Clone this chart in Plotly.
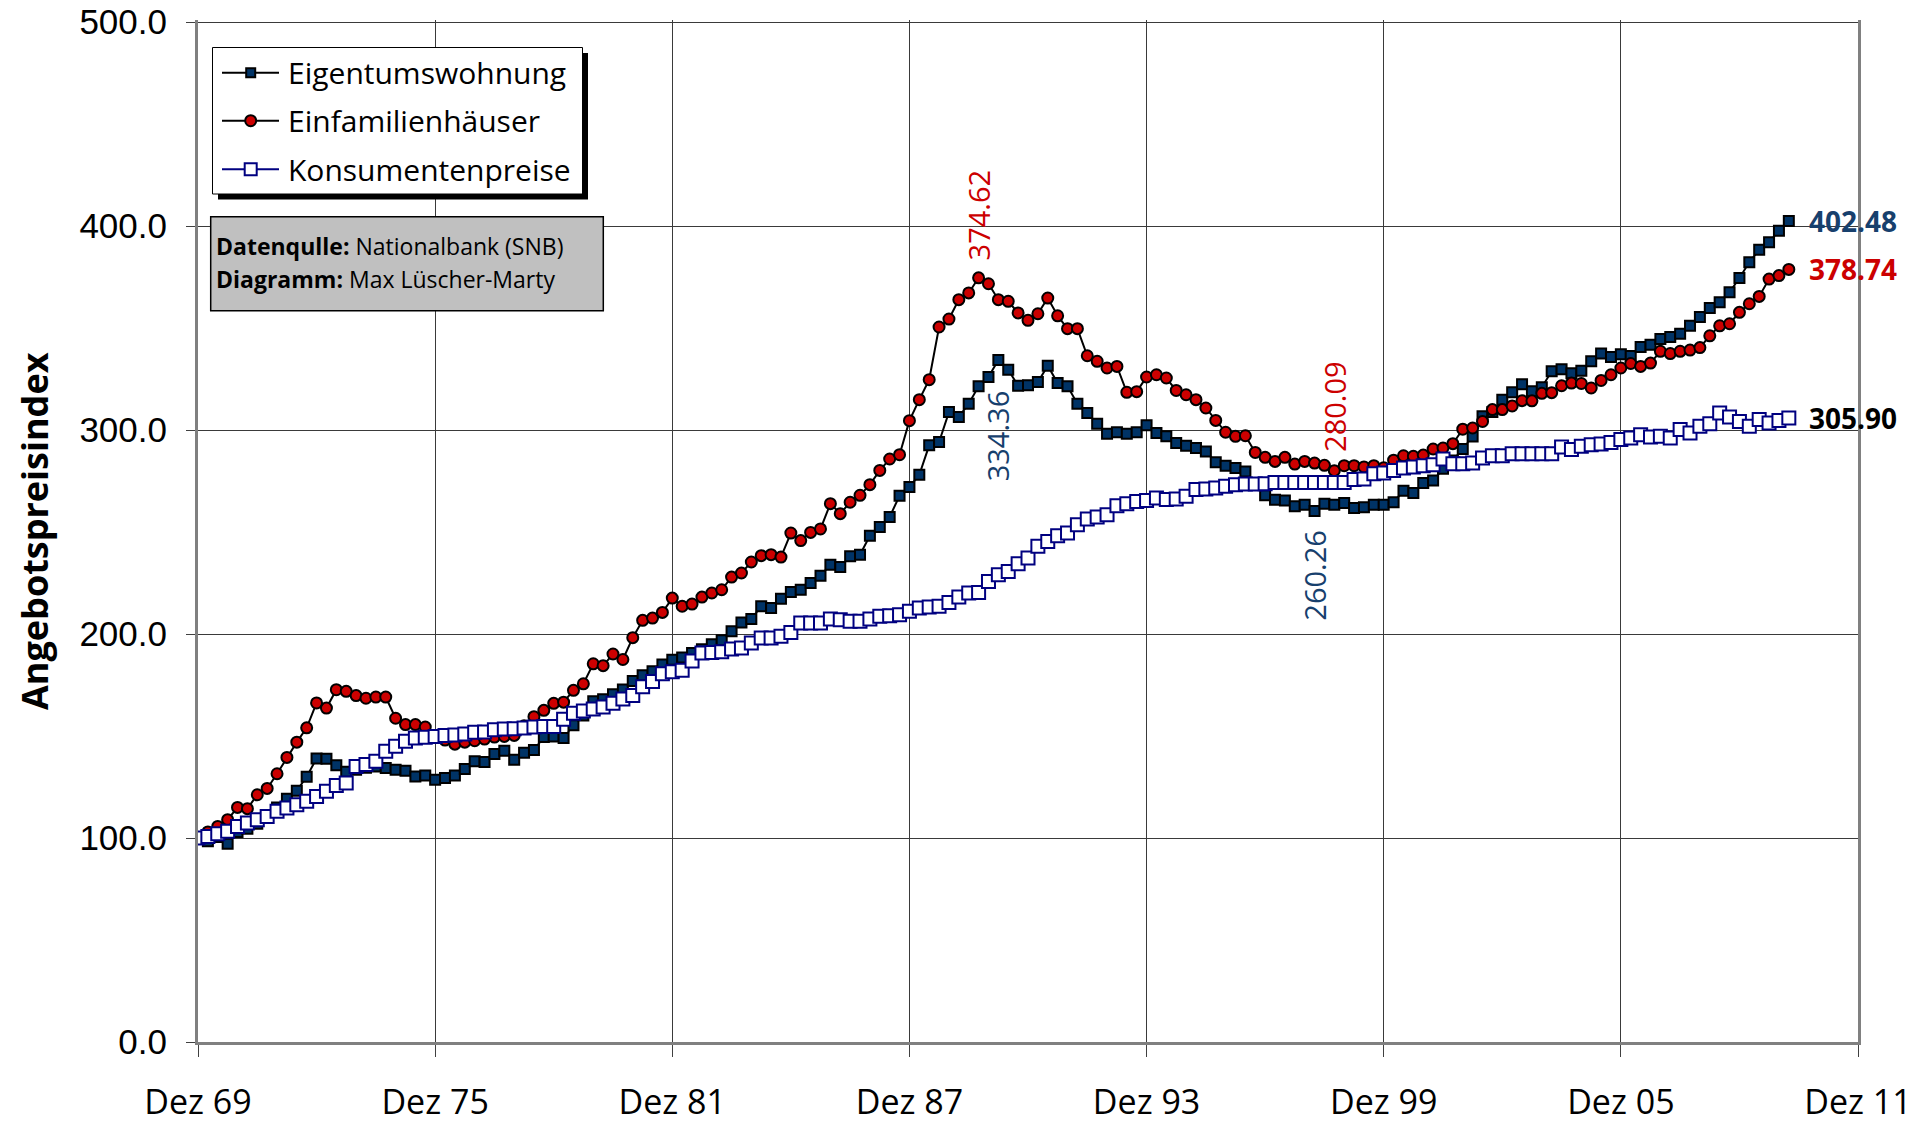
import plotly.graph_objects as go

# ---------------- data (quarterly, Dez 1969 = 100) ----------------
tick_labels = ["Dez 69", "Dez 75", "Dez 81", "Dez 87", "Dez 93", "Dez 99", "Dez 05", "Dez 11"]
tick_quarters = [0, 24, 48, 72, 96, 120, 144, 168]
y_ticks = [0, 100, 200, 300, 400, 500]

eigentumswohnung = [
    100, 98.4, 100.5, 97.2, 103, 104.5, 107, 111, 115, 119.3,
    123.2, 130, 139, 138.9, 135.7, 132.5, 133.5, 134.5, 135, 134.3,
    133.5, 133, 130.2, 130.6, 128.6, 129.4, 130.6, 133.8, 137.6, 137.3,
    141.2, 142.8, 138.4, 141.8, 143.2, 149.5, 149.7, 149, 155.3, 160,
    167, 168, 170.5, 172.8, 177, 179.8, 181.7, 185, 187.4, 188.5,
    190.7, 192.5, 195, 196.9, 201.3, 205.7, 207.4, 213.6, 212.7, 217.3,
    220.6, 221.7, 225, 228.6, 234, 232.8, 238.1, 238.9, 248.2, 252.5,
    257.4, 267.8, 272.1, 278.1, 292.5, 294.1, 308.8, 306.4, 312.9, 321.4,
    326, 334.36, 329.6, 321.7, 321.9, 323.5, 331.5, 323, 321.4, 312.9,
    308.3, 303.1, 298.2, 298.9, 298.2, 298.9, 302.3, 298.5, 297, 293.6,
    292.3, 291.2, 289.5, 284.2, 282.5, 281.4, 279.7, 274, 268, 265.8,
    265.4, 262.6, 263.4, 260.26, 263.9, 263.4, 264.2, 261.8, 262.1, 263.4,
    263.4, 264.6, 270.2, 269.1, 274, 275.2, 281, 285, 290.7, 296.8,
    306.7, 308.8, 314.9, 318.5, 322.5, 319, 321, 328.8, 329.8, 327.8,
    329.1, 333.7, 337.5, 335.8, 337.2, 336.3, 340.7, 341.8, 344.6, 345.6,
    347.2, 351.1, 355.4, 359.8, 362.6, 367.5, 374.5, 382.2, 388.4, 392,
    397.7, 402.48,
]

einfamilienhaeuser = [
    100, 103, 105.7, 109, 115, 114.4, 121.2, 124.3, 131.5, 139.5,
    147, 154, 166.2, 163.7, 172.7, 171.9, 169.8, 168.5, 169.1, 169.1,
    158.7, 155.6, 155.6, 154.4, 150, 148, 146, 147, 147.7, 148.5,
    149.5, 149.8, 150.3, 155, 159.5, 162.6, 166, 166.6, 172.4, 175.6,
    185.4, 184.5, 190.2, 187.5, 198.2, 206.7, 207.8, 210.6, 217.6, 213.6,
    214.7, 218.1, 220.1, 221.7, 227.9, 229.9, 235.3, 238.4, 238.9, 237.7,
    249.5, 245.8, 249.8, 251.5, 263.9, 259, 264.6, 268, 273.2, 280.2,
    285.8, 287.9, 304.6, 314.9, 324.7, 350.5, 354.4, 363.9, 367.2, 374.62,
    371.7, 363.9, 363.1, 357.4, 353.8, 357, 364.7, 356, 349.7, 349.7,
    336.4, 333.7, 330.4, 331.2, 318.5, 318.8, 326, 327.1, 325.5, 319.4,
    317.3, 314.9, 310.8, 304.7, 298.9, 296.9, 297.2, 289, 286.6, 284.6,
    286.6, 283.3, 284.6, 283.8, 282.7, 280.09, 282.5, 282.5, 281.9, 282.5,
    281.5, 285.2, 287.4, 287.1, 287.7, 290.7, 291.2, 293.3, 300.4, 301,
    304.2, 310, 310, 311.8, 314.4, 314.3, 318, 318.3, 321.7, 323,
    322.8, 320.6, 324.3, 327.1, 330.4, 332.6, 331.2, 332.8, 338.6, 337.5,
    338.6, 339.2, 340.4, 346.2, 351.1, 352.1, 357.7, 361.9, 365.5, 374,
    375.7, 378.74,
]

konsumentenpreise = [
    100, 100.8, 102.1, 103.3, 105.7, 107.4, 109, 110.6, 113.1, 114.7,
    116.3, 118, 120.4, 122.9, 125.8, 127, 135.1, 136, 137.6, 142.5,
    145, 147.4, 149, 149.4, 149.8, 150.2, 150.5, 151, 151.8, 152,
    153.1, 153.4, 153.6, 153.9, 154.4, 154.7, 154.7, 158.2, 161.2, 162.3,
    163.2, 164.2, 166, 168.1, 169.8, 174.1, 176.7, 180.5, 181.5, 182.2,
    186.8, 190.7, 191, 191.3, 192.6, 193.1, 195.6, 198, 198, 198.9,
    200.8, 205.4, 205.4, 205.4, 207.4, 207, 206.2, 206.2, 207.4, 208.7,
    209, 209.5, 211.1, 212.7, 213.2, 213.6, 215.5, 218.1, 220.1, 220.4,
    225.8, 229.1, 230.7, 234.5, 237.3, 243, 245.4, 248.2, 249.5, 253.6,
    256.4, 257.4, 258.5, 262.9, 263.9, 265, 265.5, 266.7, 266, 266.2,
    267.5, 270.8, 271.1, 271.6, 272.4, 273.2, 273.5, 273.5, 273.7, 274.3,
    274.3, 274.3, 274.3, 274.3, 274.3, 274.3, 274.3, 275.7, 276, 278.6,
    278.9, 280.2, 281.4, 281.9, 282.5, 283, 285.8, 283.5, 283.5, 283.8,
    286.3, 287.4, 287.4, 288.4, 288.4, 288.4, 288.4, 288.4, 291.7, 290.4,
    292, 292.8, 293.1, 293.9, 295.3, 296.1, 297.7, 296.6, 296.9, 296.1,
    300.2, 298.5, 301.8, 303.1, 308.3, 306.4, 304.2, 301.8, 305.1, 303.4,
    304.7, 305.9,
]

series_names = ["Eigentumswohnung", "Einfamilienhäuser", "Konsumentenpreise"]

# quarter index since Dez 69
quarters = list(range(len(eigentumswohnung)))

# ---------------- styles ----------------
FONT = "Open Sans"
TICKFONT_Y = "Liberation Sans"
RED = "#CC0000"
NAVY = "#000080"
DARKBLUE = "#003366"
LABELBLUE = "#17406D"

fig = go.Figure()
fig.add_trace(go.Scatter(
    x=quarters, y=eigentumswohnung, name=series_names[0], mode="lines+markers",
    line=dict(color="black", width=2),
    marker=dict(symbol="square", size=10, color=DARKBLUE, line=dict(color="black", width=2)),
    showlegend=False))
fig.add_trace(go.Scatter(
    x=quarters, y=einfamilienhaeuser, name=series_names[1], mode="lines+markers",
    line=dict(color="black", width=2),
    marker=dict(symbol="circle", size=11, color=RED, line=dict(color="black", width=2)),
    showlegend=False))
fig.add_trace(go.Scatter(
    x=quarters, y=konsumentenpreise, name=series_names[2], mode="lines+markers",
    line=dict(color=NAVY, width=2),
    marker=dict(symbol="square", size=13, color="white", line=dict(color=NAVY, width=2)),
    showlegend=False))

# screen geometry (page body margin removed by post_script)
W, H = 1926, 1123
PX0, PX1, PY0, PY1 = 198, 1858, 20, 1042   # plot area on screen; y range 0..501


def px(x):
    return (x - PX0) / (PX1 - PX0)


def py(y):
    return (PY1 - y) / (PY1 - PY0)


shapes = []
annotations = []

# ---- manual legend with shadow ----
shapes.append(dict(type="rect", xref="paper", yref="paper", x0=px(218), x1=px(588), y0=py(53), y1=py(199.5),
                   fillcolor="black", line=dict(width=0), layer="above"))
shapes.append(dict(type="rect", xref="paper", yref="paper", x0=px(212.5), x1=px(582.5), y0=py(47.5), y1=py(194),
                   fillcolor="white", line=dict(color="black", width=1), layer="above"))
rows = [72.7, 120.7, 169.3]
line_cols = ["black", "black", NAVY]
for r, lc in zip(rows, line_cols):
    shapes.append(dict(type="line", xref="paper", yref="paper", x0=px(222), x1=px(279), y0=py(r), y1=py(r),
                       line=dict(color=lc, width=2), layer="above"))
cx = 250.7
shapes.append(dict(type="rect", xref="paper", yref="paper", x0=px(cx - 4.5), x1=px(cx + 4.5),
                   y0=py(rows[0] + 4.5), y1=py(rows[0] - 4.5), fillcolor=DARKBLUE,
                   line=dict(color="black", width=2), layer="above"))
shapes.append(dict(type="circle", xref="paper", yref="paper", x0=px(cx - 5.5), x1=px(cx + 5.5),
                   y0=py(rows[1] + 5.5), y1=py(rows[1] - 5.5), fillcolor=RED,
                   line=dict(color="black", width=2), layer="above"))
shapes.append(dict(type="rect", xref="paper", yref="paper", x0=px(cx - 6), x1=px(cx + 6),
                   y0=py(rows[2] + 6), y1=py(rows[2] - 6), fillcolor="white",
                   line=dict(color=NAVY, width=2), layer="above"))
for r, name in zip(rows, series_names):
    annotations.append(dict(xref="paper", yref="paper", x=px(286), y=py(r), text=name, showarrow=False,
                            xanchor="left", yanchor="middle", font=dict(family=FONT, size=30, color="black")))

# ---- source box ----
shapes.append(dict(type="rect", xref="paper", yref="paper", x0=px(210.7), x1=px(603.3), y0=py(216.7), y1=py(310.7),
                   fillcolor="#C0C0C0", line=dict(color="black", width=1.5), layer="above"))
annotations.append(dict(xref="paper", yref="paper", x=px(214), y=py(246), showarrow=False,
                        text="<b>Datenqulle:</b> Nationalbank (SNB)", xanchor="left", yanchor="middle",
                        font=dict(family=FONT, size=23, color="black")))
annotations.append(dict(xref="paper", yref="paper", x=px(214), y=py(279), showarrow=False,
                        text="<b>Diagramm:</b> Max Lüscher-Marty", xanchor="left", yanchor="middle",
                        font=dict(family=FONT, size=23, color="black")))

# ---- y axis title ----
annotations.append(dict(xref="paper", yref="paper", x=px(34), y=py(531), showarrow=False,
                        text="<b>Angebotspreisindex</b>", textangle=-90, xanchor="center", yanchor="middle",
                        font=dict(family=FONT, size=36, color="black")))


# ---- value labels tied to data ----
def window_ext(arr, start, end, fn):
    sub = arr[start:end]
    v = fn(sub)
    return start + sub.index(v), v


peak_labels = [
    (einfamilienhaeuser, 60, 100, max, RED, 63),
    (eigentumswohnung, 60, 100, max, LABELBLUE, -76),
    (einfamilienhaeuser, 100, 130, min, RED, 64),
    (eigentumswohnung, 100, 130, min, LABELBLUE, -64),
]
for arr, s, e, fn, col, ys in peak_labels:
    i, v = window_ext(arr, s, e, fn)
    annotations.append(dict(x=i, y=v, xref="x", yref="y", text=f"{v:.2f}", showarrow=False, textangle=-90,
                            yshift=ys, xanchor="center", yanchor="middle",
                            font=dict(family=FONT, size=29, color=col)))

end_labels = [(eigentumswohnung, LABELBLUE), (einfamilienhaeuser, RED), (konsumentenpreise, "black")]
for arr, col in end_labels:
    annotations.append(dict(x=quarters[-1], y=arr[-1], xref="x", yref="y", text=f"<b>{arr[-1]:.2f}</b>",
                            showarrow=False, xanchor="left", yanchor="middle", xshift=18,
                            font=dict(family=FONT, size=28, color=col)))

fig.update_layout(
    width=W, height=H,
    margin=dict(l=PX0, r=W - PX1, t=PY0, b=H - PY1),
    paper_bgcolor="white", plot_bgcolor="white",
    font=dict(family=FONT, color="black"),
    shapes=shapes, annotations=annotations,
    showlegend=False,
)
fig.update_xaxes(
    range=[0, 168], tickmode="array", tickvals=tick_quarters, ticktext=tick_labels,
    showgrid=True, gridcolor="#3a3a3a", gridwidth=1,
    showline=True, linecolor="#808080", linewidth=3, mirror=False,
    ticks="outside", ticklen=12, tickcolor="#404040", tickwidth=1,
    tickfont=dict(family=FONT, size=34, color="black"), zeroline=False,
    ticklabelstandoff=16, automargin=False, ticklabeloverflow="allow",
)
fig.update_yaxes(
    range=[0, 501], tickmode="array", tickvals=y_ticks, tickformat=".1f",
    showgrid=True, gridcolor="#3a3a3a", gridwidth=1,
    showline=True, linecolor="#808080", linewidth=3, mirror=True,
    ticks="outside", ticklen=9, tickcolor="#404040", tickwidth=1,
    tickfont=dict(family=TICKFONT_Y, size=35, color="black"), zeroline=False,
    ticklabelstandoff=12, automargin=False, ticklabeloverflow="allow",
)

fig.write_html("out.html", config={"displayModeBar": False},
               post_script="document.body.style.margin='0px';")
